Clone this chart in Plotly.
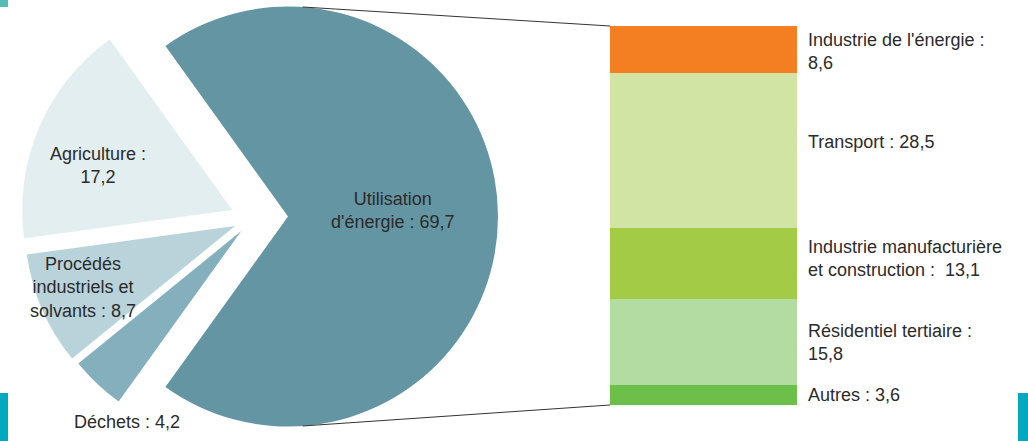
import math
import plotly.graph_objects as go

# ---------------- data ----------------
pie_categories = ["Utilisation d'énergie", "Agriculture", "Procédés industriels et solvants", "Déchets"]
pie_values = [69.7, 17.2, 8.7, 4.2]
pie_label_formats = ["Utilisation<br>d'énergie : {}", "Agriculture :<br>{}",
                     "Procédés<br>industriels et<br>solvants : {}", "Déchets : {}"]

bar_categories = ["Industrie de l'énergie", "Transport",
                  "Industrie manufacturière et construction", "Résidentiel tertiaire", "Autres"]
bar_values = [8.6, 28.5, 13.1, 15.8, 3.6]
bar_label_formats = ["Industrie de l'énergie :<br>{}", "Transport : {}",
                     "Industrie manufacturière<br>et construction :  {}",
                     "Résidentiel tertiaire :<br>{}", "Autres : {}"]

# ---------------- style ----------------
W, H = 1028, 441
FONT = dict(family="Liberation Sans, Arial, sans-serif", size=18, color="#2b2b2b")
pie_colors = ["#6495a3", "#e2eef0", "#b8d4da", "#83b0bc"]
pull_px = [31, 27, 24, 23]
bar_colors = ["#f47f22", "#d2e4a3", "#a3cb46", "#b3dca0", "#6cbf48"]

R = 210              # pie radius (px)
CX, CY = 257, 216.5  # common pie centre before explosion (px)
pie_label_pos = [(393, 210), (98, 165), (83, 287), (127, 422)]

BAR_X0, BAR_X1 = 610, 797
BAR_Y0, BAR_Y1 = 26, 405
bar_label_x = 806
bar_label_yshift = [-2, 8, 5, 0, 0]


def fmt(v):
    return f"{v:.1f}".replace(".", ",")


fig = go.Figure()

# ---------------- exploded pie (one trace per slice) ----------------
total = sum(pie_values)
order = [0, 3, 2, 1]  # clockwise drawing order starting with the big slice
vals = [pie_values[i] for i in order]
labs = [pie_categories[i] for i in order]
a0 = 360 * pie_values[0] / total
rotation = 90 - a0 / 2

cum = rotation
for k, idx in enumerate(order):
    ang = 360 * pie_values[idx] / total
    mid = math.radians(cum + ang / 2)
    cum += ang
    cx = CX + pull_px[idx] * math.sin(mid)
    cy = CY - pull_px[idx] * math.cos(mid)
    cx = min(max(cx, R), W - R)
    cy = min(max(cy, R), H - R)
    dx = [max(0, (cx - R) / W), min(1, (cx + R) / W)]
    dy = [max(0, 1 - (cy + R) / H), min(1, 1 - (cy - R) / H)]
    colors = [pie_colors[idx] if j == k else "rgba(0,0,0,0)" for j in range(len(order))]
    fig.add_trace(go.Pie(
        labels=labs, values=vals, sort=False, direction="clockwise",
        rotation=rotation, textinfo="none", showlegend=False,
        marker=dict(colors=colors, line=dict(width=0)),
        domain=dict(x=dx, y=dy), hoverinfo="label+value",
    ))

for i, (px, py) in enumerate(pie_label_pos):
    fig.add_annotation(x=px / W, y=1 - py / H, xref="paper", yref="paper",
                       text=pie_label_formats[i].format(fmt(pie_values[i])),
                       showarrow=False, font=FONT, align="center",
                       xanchor="center", yanchor="middle")

# ---------------- stacked bar ----------------
bar_total = sum(bar_values)
for i, (name, v) in enumerate(zip(bar_categories, bar_values)):
    fig.add_trace(go.Bar(x=[0], y=[v], name=name, width=1,
                         marker=dict(color=bar_colors[i], line=dict(width=0)),
                         showlegend=False, xaxis="x", yaxis="y"))

base = 0
for i, v in enumerate(bar_values):
    fig.add_annotation(x=bar_label_x / W, xref="paper", y=base + v / 2, yref="y",
                       text=bar_label_formats[i].format(fmt(v)), showarrow=False,
                       font=FONT, align="left", xanchor="left", yanchor="middle",
                       yshift=bar_label_yshift[i])
    base += v

# ---------------- connector lines ----------------
big_cx = CX + pull_px[0]
big_cy = CY
for ang_deg, ybar in [(4, BAR_Y0), (176, BAR_Y1)]:
    a = math.radians(ang_deg)
    sx = big_cx + R * math.sin(a)
    sy = big_cy - R * math.cos(a)
    fig.add_shape(type="line", xref="paper", yref="paper",
                  x0=sx / W, y0=1 - sy / H, x1=BAR_X0 / W, y1=1 - ybar / H,
                  line=dict(color="#333333", width=1))

# ---------------- page decorations ----------------
for (x0, y0, x1, y1, c) in [(0, 0, 8, 7, "#55bdb1"), (0, 393, 8, 441, "#00a9bf"),
                            (1018, 393, 1028, 441, "#00a9bf")]:
    fig.add_shape(type="rect", xref="paper", yref="paper", x0=x0 / W, x1=x1 / W,
                  y0=1 - y1 / H, y1=1 - y0 / H, fillcolor=c, line=dict(width=0),
                  layer="above")

fig.update_layout(
    width=W, height=H, margin=dict(l=0, r=0, t=0, b=0),
    paper_bgcolor="white", plot_bgcolor="white", barmode="stack",
    bargap=0, font=FONT,
    xaxis=dict(domain=[BAR_X0 / W, BAR_X1 / W], range=[-0.5, 0.5], visible=False,
               fixedrange=True),
    yaxis=dict(domain=[1 - BAR_Y1 / H, 1 - BAR_Y0 / H], range=[bar_total, 0],
               visible=False, fixedrange=True),
)

fig.write_html("out.html", config={"displayModeBar": False},
               post_script="document.body.style.margin='0';document.body.style.overflow='hidden';")
